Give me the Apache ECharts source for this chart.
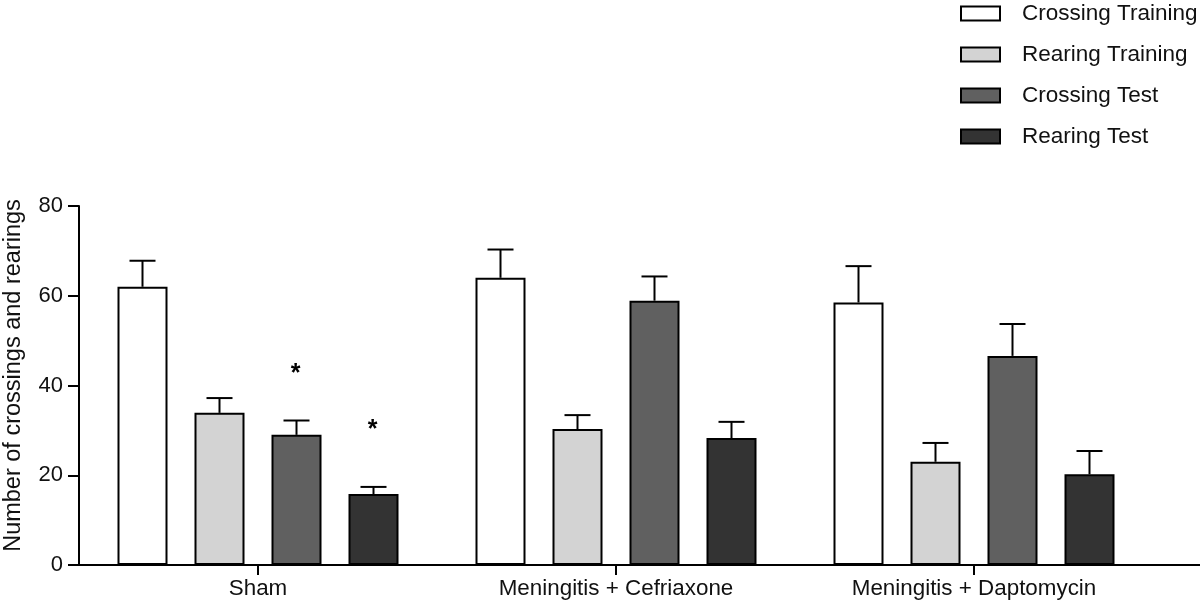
<!DOCTYPE html>
<html><head><meta charset="utf-8">
<script src="https://cdn.jsdelivr.net/npm/echarts@6/dist/echarts.min.js"></script>
<style>html,body{margin:0;padding:0;background:#fff}#c{width:1200px;height:602px}</style>
</head><body><div id="c"></div>
<script>
const categories = ['Sham', 'Meningitis + Cefriaxone', 'Meningitis + Daptomycin'];
const seriesNames = ['Crossing Training', 'Rearing Training', 'Crossing Test', 'Rearing Test'];
const crossingTraining = [62.0, 64.0, 58.5];
const crossingTrainingErr = [5.8, 6.3, 8.1];
const rearingTraining = [33.9, 30.3, 23.0];
const rearingTrainingErr = [3.3, 3.1, 4.2];
const crossingTest = [29.0, 58.9, 46.6];
const crossingTestErr = [3.2, 5.4, 7.1];
const rearingTest = [15.8, 28.3, 20.2];
const rearingTestErr = [1.6, 3.6, 5.2];
// significance markers: [category index, series index, y position]
const significance = [[0, 2, 43.4], [0, 3, 31.0]];
const yTicks = [0, 20, 40, 60, 80];

const colors = ['#ffffff', '#d3d3d3', '#606060', '#333333'];
const means = [crossingTraining, rearingTraining, crossingTest, rearingTest];
const errs = [crossingTrainingErr, rearingTrainingErr, crossingTestErr, rearingTestErr];
const BAR_W = 50, GAP = 0.54;
const FONT = 'Liberation Sans, Arial, Helvetica, sans-serif';

function offsetFor(si){ return (si - 1.5) * BAR_W * (1 + GAP); }

function errRender(si){
  return function(params, api){
    const ci = api.value(0), m = api.value(1), e = api.value(2);
    const b = api.coord([ci, m]), t = api.coord([ci, m + e]);
    const x = b[0] + offsetFor(si);
    return {type:'group', children:[
      {type:'line', shape:{x1:x, y1:b[1], x2:x, y2:t[1]}, style:{stroke:'#000', lineWidth:2}},
      {type:'line', shape:{x1:x-13, y1:t[1], x2:x+13, y2:t[1]}, style:{stroke:'#000', lineWidth:2}}
    ]};
  };
}

const series = [];
seriesNames.forEach((n, si) => {
  series.push({
    name:n, type:'bar', data: means[si], barWidth: BAR_W, barGap: (GAP*100)+'%',
    itemStyle:{color: colors[si], borderColor:'#000', borderWidth:2},
    silent:true
  });
});
seriesNames.forEach((n, si) => {
  series.push({
    type:'custom', renderItem: errRender(si), z: 1,
    data: means[si].map((v, ci) => [ci, v, errs[si][ci]]),
    encode:{x:0, y:[1]}, silent:true
  });
});
series.push({
  type:'custom', z:5, silent:true,
  data: significance,
  renderItem: function(params, api){
    const ci = api.value(0), si = api.value(1), y = api.value(2);
    const p = api.coord([ci, y]);
    return {type:'text', style:{text:'*', x:p[0]+offsetFor(si)-1, y:p[1]+4, align:'center', verticalAlign:'middle', font:'bold 25px ' + FONT, fill:'#000'}};
  },
  encode:{x:0, y:2}
});

const chart = echarts.init(document.getElementById('c'));
chart.setOption({
  animation:false,
  backgroundColor:'#fff',
  textStyle:{fontFamily: FONT},
  legend:{
    data: seriesNames, orient:'vertical', left:955, top:-3,
    itemWidth:39, itemHeight:14, itemGap:18,
    icon:'rect',
    textStyle:{fontSize:22.5, color:'#111', padding:[0,0,0,17], fontFamily: FONT}
  },
  grid:[
    {left:79, right:47, top:206, bottom:37, containLabel:false, outerBoundsMode:'none'},
    {left:79, right:0, top:206, bottom:37, containLabel:false, outerBoundsMode:'none'}
  ],
  xAxis:[
    {type:'category', data: categories, gridIndex:0,
     axisLine:{lineStyle:{color:'#000', width:2}},
     axisTick:{show:true, interval:0, alignWithLabel:true, length:10, lineStyle:{color:'#000', width:2}},
     axisLabel:{fontSize:22.4, color:'#111', margin:13, fontFamily: FONT}},
    {type:'value', gridIndex:1, min:0, max:1, show:true,
     axisLine:{show:true, onZero:false, lineStyle:{color:'#000', width:2}},
     axisTick:{show:false}, axisLabel:{show:false}, splitLine:{show:false}}
  ],
  yAxis:[
    {type:'value', gridIndex:0, min:0, max:80, interval:20,
     name:'Number of crossings and rearings', nameLocation:'middle', nameGap:53,
     nameTextStyle:{fontSize:23.5, color:'#111', fontFamily: FONT, padding:[0,0,0,20]},
     axisLine:{show:true, lineStyle:{color:'#000', width:2}},
     axisTick:{show:true, length:11, lineStyle:{color:'#000', width:2}},
     axisLabel:{fontSize:22, color:'#111', margin:16, fontFamily: FONT},
     splitLine:{show:false}},
    {type:'value', gridIndex:1, min:0, max:1, show:false}
  ],
  series: series
});
</script></body></html>
